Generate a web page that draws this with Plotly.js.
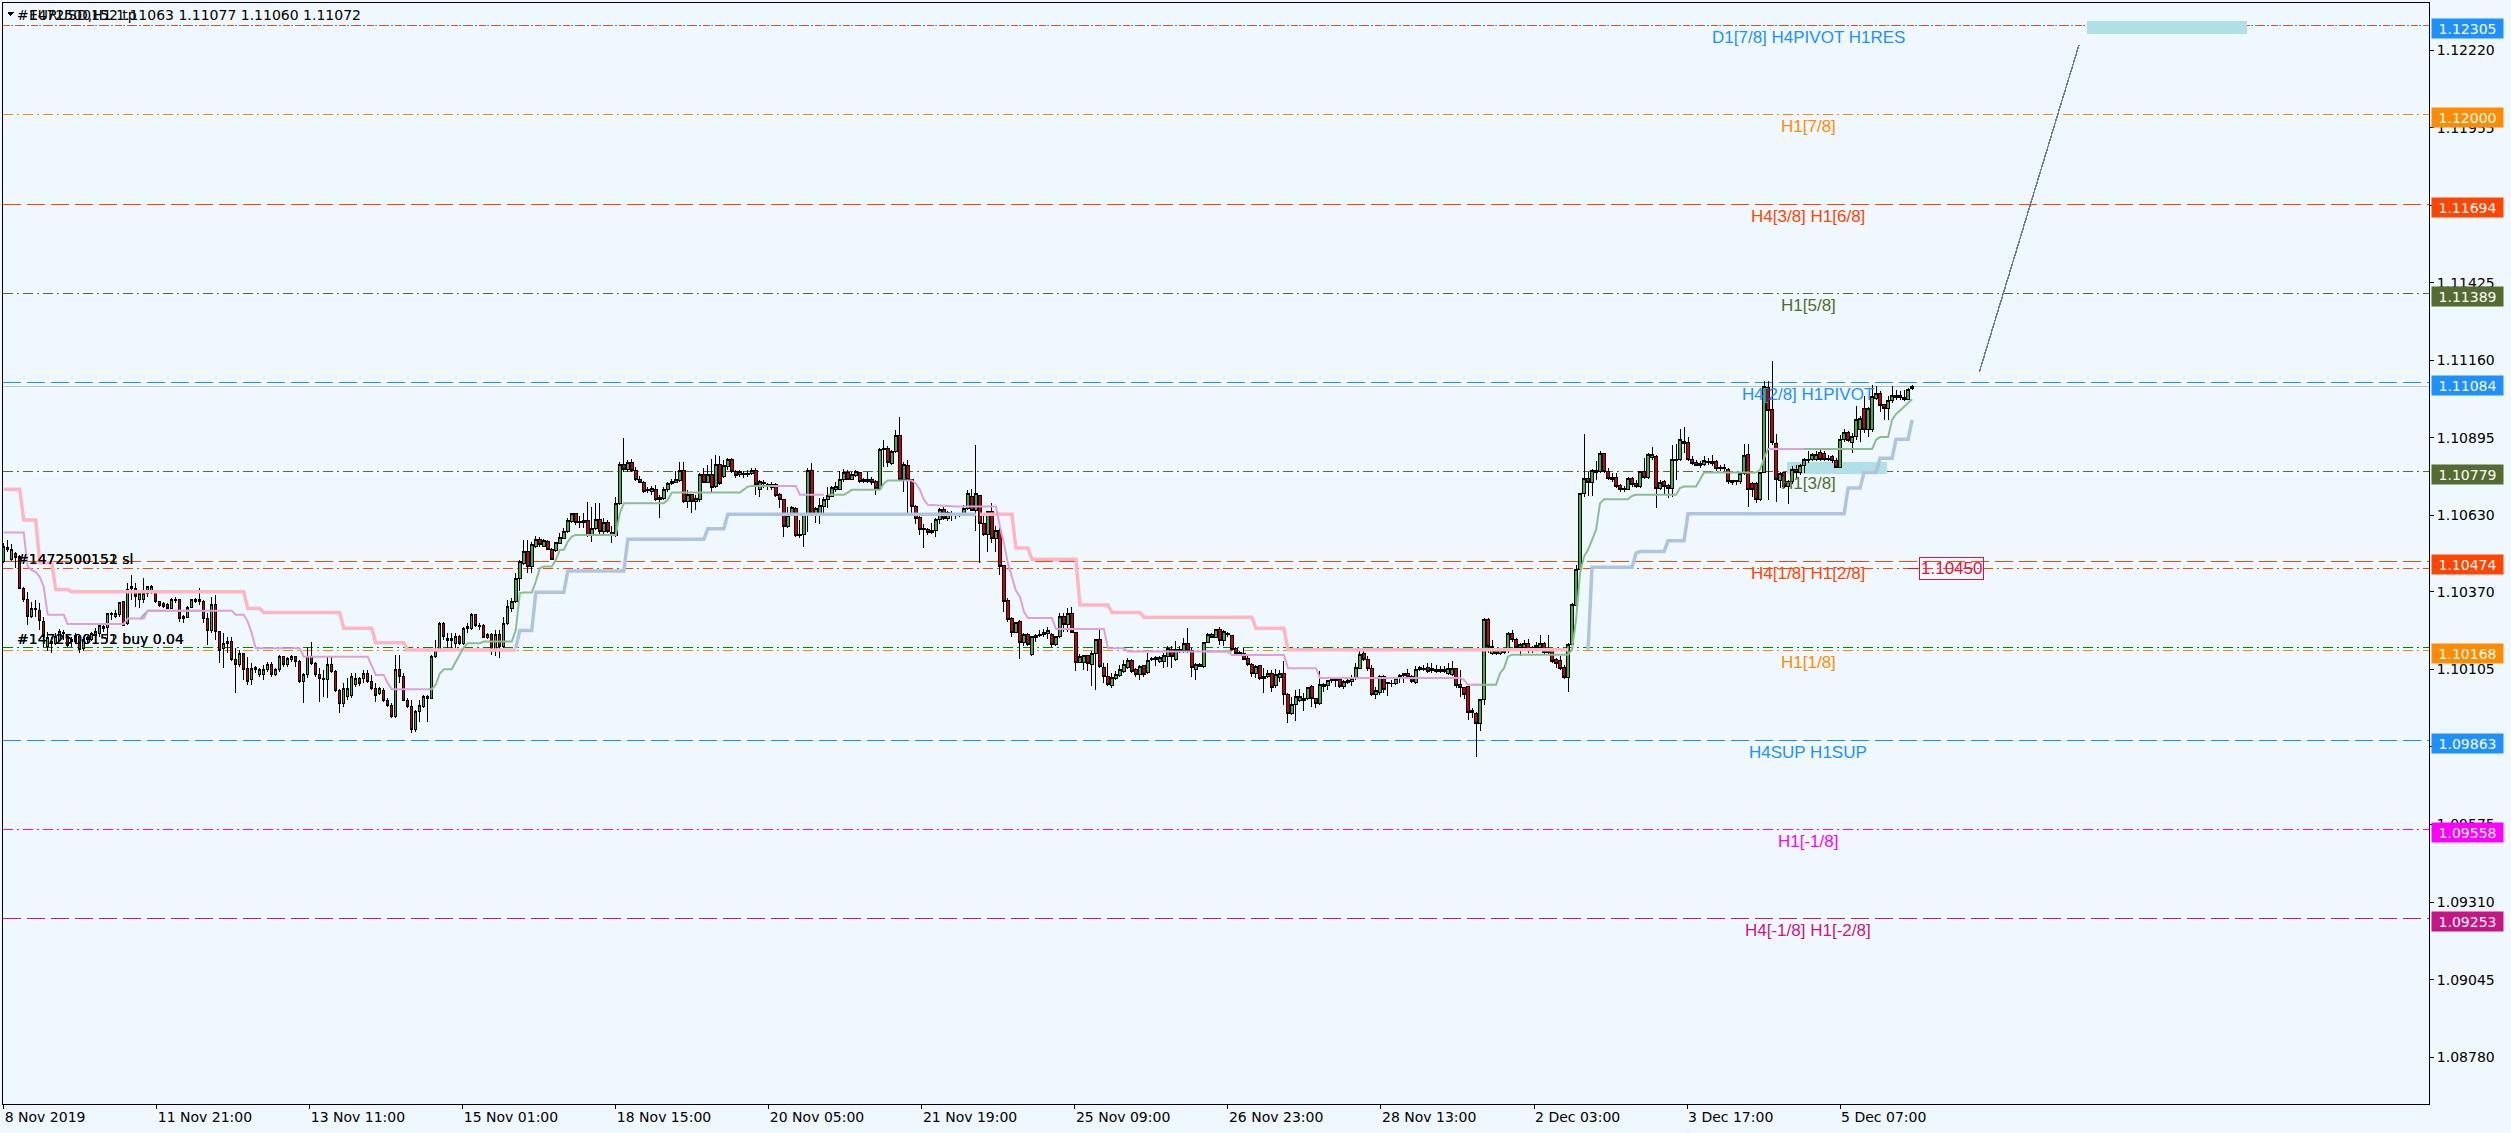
<!DOCTYPE html>
<html><head><meta charset="utf-8">
<script src="https://cdn.plot.ly/plotly-3.0.1.min.js"></script>
<style>html,body{margin:0;padding:0;background:#F0F8FF;}#chart{width:2511px;height:1133px;}
#chart .shapelayer path{shape-rendering:crispEdges;}
#chart .boxlayer path{shape-rendering:crispEdges;}
</style>
</head><body><div id="chart"></div>
<script>
// ---------- EURUSD H1 candles (bar index 0 = 8 Nov 2019) ----------
const opens = [
1.10473,1.10515,1.10481,1.10499,1.10490,1.10382,1.10342,1.10285,1.10313,1.10305,
1.10268,1.10182,1.10200,1.10194,1.10205,1.10230,1.10217,1.10200,1.10200,1.10217,
1.10177,1.10207,1.10207,1.10222,1.10226,1.10251,1.10248,1.10296,1.10287,1.10291,
1.10336,1.10260,1.10382,1.10382,1.10342,1.10344,1.10365,1.10369,1.10367,1.10335,
1.10330,1.10325,1.10313,1.10339,1.10342,1.10279,1.10283,1.10317,1.10335,1.10344,
1.10336,1.10279,1.10239,1.10325,1.10234,1.10177,1.10200,1.10200,1.10139,1.10120,
1.10160,1.10108,1.10069,1.10112,1.10086,1.10086,1.10103,1.10120,1.10086,1.10103,
1.10148,1.10120,1.10137,1.10148,1.10131,1.10063,1.10086,1.10148,1.10126,1.10086,
1.10069,1.10069,1.10120,1.10097,1.10034,1.09989,1.10012,1.10017,1.10052,1.10074,
1.10074,1.10091,1.10063,1.10040,1.10023,1.10034,1.10000,1.09983,1.09943,1.10103,
1.10080,1.10000,1.09978,1.09898,1.09961,1.09978,1.10006,1.10006,1.10148,1.10171,
1.10262,1.10211,1.10205,1.10194,1.10217,1.10194,1.10245,1.10245,1.10291,1.10256,
1.10253,1.10215,1.10223,1.10174,1.10223,1.10183,1.10263,1.10314,1.10337,1.10416,
1.10467,1.10507,1.10456,1.10524,1.10549,1.10524,1.10541,1.10515,1.10511,1.10536,
1.10553,1.10575,1.10610,1.10636,1.10606,1.10608,1.10612,1.10561,1.10587,1.10615,
1.10575,1.10606,1.10572,1.10561,1.10670,1.10803,1.10786,1.10813,1.10784,1.10752,
1.10744,1.10720,1.10712,1.10720,1.10684,1.10689,1.10718,1.10740,1.10742,1.10750,
1.10783,1.10678,1.10701,1.10678,1.10684,1.10769,1.10743,1.10769,1.10729,1.10803,
1.10763,1.10797,1.10822,1.10780,1.10769,1.10775,1.10772,1.10775,1.10783,1.10720,
1.10743,1.10735,1.10727,1.10737,1.10701,1.10684,1.10593,1.10632,1.10655,1.10561,
1.10564,1.10632,1.10784,1.10632,1.10629,1.10661,1.10684,1.10695,1.10718,1.10720,
1.10752,1.10777,1.10752,1.10766,1.10777,1.10745,1.10745,1.10752,1.10746,1.10723,
1.10857,1.10860,1.10809,1.10849,1.10902,1.10754,1.10802,1.10752,1.10661,1.10624,
1.10587,1.10583,1.10572,1.10579,1.10615,1.10652,1.10621,1.10638,1.10629,1.10632,
1.10629,1.10655,1.10695,1.10647,1.10697,1.10604,1.10564,1.10644,1.10553,1.10578,
1.10458,1.10339,1.10280,1.10231,1.10268,1.10197,1.10225,1.10154,1.10215,1.10219,
1.10223,1.10226,1.10223,1.10189,1.10217,1.10285,1.10257,1.10297,1.10231,1.10128,
1.10128,1.10151,1.10120,1.10160,1.10206,1.10111,1.10082,1.10049,1.10075,1.10083,
1.10098,1.10111,1.10134,1.10103,1.10086,1.10117,1.10094,1.10137,1.10145,1.10132,
1.10132,1.10149,1.10174,1.10137,1.10174,1.10169,1.10192,1.10169,1.10105,1.10120,
1.10115,1.10197,1.10223,1.10215,1.10240,1.10203,1.10228,1.10219,1.10177,1.10158,
1.10158,1.10142,1.10120,1.10090,1.10117,1.10075,1.10080,1.10090,1.10049,1.10078,
1.10090,1.10018,1.09955,1.09986,1.09999,1.10006,1.10006,1.10046,1.10006,1.09987,
1.10052,1.10049,1.10067,1.10071,1.10069,1.10046,1.10060,1.10063,1.10075,1.10109,
1.10158,1.10137,1.10109,1.10018,1.10026,1.10080,1.10055,1.10058,1.10058,1.10075,
1.10090,1.10090,1.10080,1.10060,1.10103,1.10109,1.10112,1.10101,1.10103,1.10098,
1.10103,1.10092,1.10086,1.10109,1.10052,1.10044,1.10046,1.09958,1.09955,1.09921,
1.10001,1.10276,1.10160,1.10172,1.10160,1.10174,1.10169,1.10229,1.10208,1.10181,
1.10181,1.10194,1.10172,1.10181,1.10181,1.10192,1.10163,1.10172,1.10140,1.10135,
1.10112,1.10078,1.10189,1.10322,1.10445,1.10704,1.10758,1.10743,1.10777,1.10780,
1.10843,1.10780,1.10761,1.10761,1.10732,1.10724,1.10720,1.10758,1.10738,1.10729,
1.10780,1.10761,1.10829,1.10832,1.10724,1.10746,1.10732,1.10724,1.10823,1.10820,
1.10883,1.10880,1.10820,1.10811,1.10800,1.10803,1.10815,1.10809,1.10815,1.10794,
1.10790,1.10788,1.10750,1.10745,1.10746,1.10775,1.10837,1.10738,1.10738,1.10686,
1.10777,1.11068,1.10993,1.10877,1.10750,1.10777,1.10729,1.10746,1.10788,1.10777,
1.10800,1.10823,1.10823,1.10823,1.10845,1.10843,1.10823,1.10832,1.10818,1.10795,
1.10889,1.10914,1.10880,1.10900,1.10923,1.10997,1.10925,1.10923,1.11031,1.11046,
1.11008,1.10997,1.11023,1.11039,1.11034,1.11034,1.11027,1.11063];
const highs = [
1.10535,1.10547,1.10533,1.10507,1.10495,1.10387,1.10370,1.10336,1.10342,1.10330,
1.10285,1.10234,1.10217,1.10230,1.10242,1.10239,1.10222,1.10217,1.10228,1.10222,
1.10217,1.10219,1.10234,1.10245,1.10260,1.10262,1.10299,1.10302,1.10308,1.10336,
1.10339,1.10399,1.10427,1.10399,1.10370,1.10416,1.10390,1.10393,1.10370,1.10339,
1.10336,1.10330,1.10349,1.10353,1.10344,1.10291,1.10321,1.10346,1.10349,1.10382,
1.10342,1.10296,1.10353,1.10359,1.10237,1.10228,1.10217,1.10217,1.10177,1.10171,
1.10162,1.10148,1.10126,1.10116,1.10108,1.10120,1.10131,1.10131,1.10108,1.10154,
1.10150,1.10148,1.10154,1.10150,1.10137,1.10091,1.10182,1.10200,1.10131,1.10108,
1.10103,1.10148,1.10148,1.10103,1.10037,1.10057,1.10074,1.10091,1.10091,1.10078,
1.10103,1.10103,1.10086,1.10057,1.10046,1.10040,1.10006,1.09989,1.10154,1.10154,
1.10091,1.10006,1.10000,1.09966,1.10000,1.10017,1.10017,1.10154,1.10205,1.10268,
1.10268,1.10228,1.10228,1.10228,1.10222,1.10251,1.10262,1.10296,1.10294,1.10262,
1.10260,1.10228,1.10228,1.10240,1.10240,1.10285,1.10342,1.10348,1.10433,1.10479,
1.10547,1.10547,1.10541,1.10561,1.10558,1.10549,1.10545,1.10519,1.10541,1.10570,
1.10587,1.10621,1.10640,1.10640,1.10627,1.10638,1.10678,1.10661,1.10672,1.10672,
1.10621,1.10615,1.10593,1.10695,1.10814,1.10896,1.10820,1.10822,1.10797,1.10766,
1.10748,1.10727,1.10731,1.10735,1.10701,1.10729,1.10746,1.10754,1.10784,1.10812,
1.10812,1.10718,1.10704,1.10701,1.10775,1.10792,1.10803,1.10822,1.10837,1.10832,
1.10820,1.10826,1.10826,1.10786,1.10786,1.10784,1.10786,1.10792,1.10792,1.10752,
1.10752,1.10740,1.10746,1.10740,1.10706,1.10684,1.10661,1.10663,1.10661,1.10615,
1.10638,1.10792,1.10811,1.10661,1.10689,1.10693,1.10729,1.10731,1.10746,1.10784,
1.10788,1.10786,1.10780,1.10786,1.10780,1.10758,1.10780,1.10763,1.10752,1.10860,
1.10888,1.10866,1.10854,1.10923,1.10968,1.10814,1.10820,1.10754,1.10667,1.10627,
1.10602,1.10587,1.10604,1.10621,1.10655,1.10659,1.10647,1.10644,1.10638,1.10638,
1.10667,1.10718,1.10720,1.10871,1.10701,1.10638,1.10647,1.10672,1.10593,1.10593,
1.10462,1.10348,1.10285,1.10268,1.10272,1.10228,1.10228,1.10219,1.10225,1.10240,
1.10242,1.10251,1.10228,1.10219,1.10297,1.10299,1.10314,1.10317,1.10234,1.10158,
1.10154,1.10154,1.10166,1.10208,1.10244,1.10128,1.10126,1.10094,1.10098,1.10120,
1.10137,1.10143,1.10140,1.10109,1.10120,1.10120,1.10162,1.10146,1.10149,1.10151,
1.10160,1.10183,1.10183,1.10203,1.10183,1.10211,1.10245,1.10177,1.10126,1.10126,
1.10200,1.10228,1.10228,1.10242,1.10251,1.10240,1.10231,1.10223,1.10181,1.10166,
1.10177,1.10149,1.10126,1.10120,1.10120,1.10109,1.10103,1.10103,1.10105,1.10103,
1.10132,1.10024,1.10012,1.10035,1.10037,1.10024,1.10046,1.10052,1.10008,1.10098,
1.10058,1.10069,1.10078,1.10078,1.10071,1.10067,1.10071,1.10086,1.10126,1.10171,
1.10177,1.10149,1.10120,1.10044,1.10086,1.10086,1.10063,1.10067,1.10080,1.10090,
1.10094,1.10105,1.10086,1.10115,1.10117,1.10120,1.10126,1.10126,1.10120,1.10117,
1.10117,1.10126,1.10132,1.10109,1.10103,1.10046,1.10049,1.09973,1.09958,1.10003,
1.10280,1.10280,1.10206,1.10177,1.10177,1.10174,1.10234,1.10240,1.10211,1.10194,
1.10206,1.10208,1.10185,1.10197,1.10223,1.10200,1.10223,1.10174,1.10143,1.10149,
1.10120,1.10194,1.10331,1.10462,1.10707,1.10909,1.10780,1.10788,1.10818,1.10849,
1.10845,1.10792,1.10777,1.10777,1.10738,1.10732,1.10763,1.10763,1.10752,1.10784,
1.10826,1.10843,1.10864,1.10837,1.10750,1.10752,1.10738,1.10872,1.10875,1.10925,
1.10932,1.10900,1.10832,1.10820,1.10818,1.10832,1.10826,1.10837,1.10820,1.10803,
1.10807,1.10792,1.10752,1.10752,1.10780,1.10875,1.10875,1.10746,1.10746,1.10780,
1.11088,1.11088,1.11159,1.10909,1.10780,1.10780,1.10752,1.10798,1.10803,1.10807,
1.10826,1.10849,1.10843,1.10852,1.10860,1.10849,1.10837,1.10837,1.10826,1.10906,
1.10925,1.10920,1.10911,1.11005,1.10971,1.11037,1.11002,1.11076,1.11073,1.11054,
1.11012,1.11039,1.11073,1.11059,1.11054,1.11059,1.11065,1.11077];
const lows = [
1.10469,1.10507,1.10476,1.10450,1.10378,1.10336,1.10256,1.10279,1.10285,1.10239,
1.10182,1.10169,1.10162,1.10188,1.10200,1.10205,1.10180,1.10182,1.10192,1.10162,
1.10169,1.10194,1.10203,1.10217,1.10217,1.10234,1.10207,1.10273,1.10279,1.10285,
1.10253,1.10255,1.10342,1.10319,1.10313,1.10330,1.10353,1.10362,1.10330,1.10319,
1.10313,1.10310,1.10310,1.10333,1.10268,1.10264,1.10279,1.10313,1.10330,1.10325,
1.10264,1.10188,1.10228,1.10205,1.10126,1.10108,1.10160,1.10135,1.10023,1.10114,
1.10069,1.10052,1.10052,1.10091,1.10078,1.10069,1.10097,1.10080,1.10083,1.10097,
1.10114,1.10114,1.10131,1.10114,1.10060,1.09989,1.10074,1.10120,1.10080,1.09995,
1.10012,1.10006,1.10091,1.10029,1.09955,1.09978,1.10000,1.10006,1.10046,1.10048,
1.10057,1.10057,1.10034,1.09995,1.10017,1.09995,1.09978,1.09938,1.09938,1.10057,
1.09998,1.09972,1.09887,1.09892,1.09926,1.09972,1.09926,1.10003,1.10143,1.10169,
1.10205,1.10177,1.10177,1.10177,1.10188,1.10188,1.10228,1.10239,1.10251,1.10239,
1.10211,1.10208,1.10154,1.10149,1.10143,1.10177,1.10257,1.10302,1.10331,1.10371,
1.10462,1.10433,1.10433,1.10519,1.10524,1.10522,1.10513,1.10479,1.10507,1.10533,
1.10549,1.10570,1.10604,1.10598,1.10587,1.10587,1.10558,1.10541,1.10581,1.10564,
1.10564,1.10570,1.10536,1.10558,1.10667,1.10780,1.10780,1.10780,1.10748,1.10740,
1.10706,1.10706,1.10701,1.10681,1.10621,1.10684,1.10712,1.10735,1.10740,1.10746,
1.10672,1.10655,1.10640,1.10649,1.10678,1.10740,1.10740,1.10712,1.10723,1.10735,
1.10758,1.10786,1.10775,1.10758,1.10761,1.10758,1.10763,1.10769,1.10701,1.10695,
1.10723,1.10718,1.10718,1.10695,1.10655,1.10558,1.10587,1.10627,1.10558,1.10553,
1.10524,1.10575,1.10627,1.10604,1.10602,1.10627,1.10655,1.10693,1.10712,1.10718,
1.10746,1.10750,1.10750,1.10763,1.10743,1.10740,1.10740,1.10735,1.10701,1.10720,
1.10797,1.10797,1.10803,1.10845,1.10752,1.10712,1.10627,1.10638,1.10602,1.10564,
1.10519,1.10564,1.10568,1.10558,1.10602,1.10615,1.10610,1.10613,1.10618,1.10624,
1.10629,1.10649,1.10644,1.10579,1.10467,1.10561,1.10507,1.10536,1.10507,1.10428,
1.10302,1.10268,1.10217,1.10228,1.10140,1.10183,1.10183,1.10151,1.10197,1.10215,
1.10215,1.10208,1.10181,1.10183,1.10211,1.10234,1.10234,1.10228,1.10098,1.10126,
1.10103,1.10101,1.10049,1.10035,1.10109,1.10060,1.10049,1.10041,1.10069,1.10078,
1.10094,1.10105,1.10092,1.10078,1.10069,1.10080,1.10090,1.10132,1.10115,1.10126,
1.10109,1.10112,1.10109,1.10132,1.10160,1.10160,1.10160,1.10080,1.10069,1.10112,
1.10109,1.10194,1.10211,1.10211,1.10189,1.10183,1.10215,1.10169,1.10149,1.10149,
1.10137,1.10117,1.10078,1.10075,1.10069,1.10024,1.10075,1.10029,1.10041,1.10063,
1.09984,1.09921,1.09950,1.09927,1.09995,1.09964,1.10001,1.09978,1.09972,1.09984,
1.10029,1.10033,1.10060,1.10046,1.10041,1.10037,1.10055,1.10049,1.10069,1.10105,
1.10132,1.10101,1.10014,1.10003,1.10018,1.10024,1.10014,1.10044,1.10052,1.10058,
1.10060,1.10075,1.10058,1.10055,1.10098,1.10098,1.10094,1.10094,1.10092,1.10092,
1.10092,1.10086,1.10081,1.10041,1.10012,1.10003,1.09933,1.09938,1.09807,1.09896,
1.09984,1.10160,1.10155,1.10155,1.10155,1.10158,1.10160,1.10200,1.10166,1.10149,
1.10166,1.10160,1.10160,1.10172,1.10172,1.10158,1.10155,1.10126,1.10109,1.10103,
1.10072,1.10026,1.10183,1.10320,1.10443,1.10695,1.10697,1.10697,1.10752,1.10775,
1.10775,1.10752,1.10746,1.10724,1.10712,1.10712,1.10716,1.10729,1.10724,1.10724,
1.10754,1.10754,1.10820,1.10655,1.10718,1.10701,1.10689,1.10695,1.10752,1.10815,
1.10843,1.10818,1.10803,1.10798,1.10792,1.10800,1.10803,1.10800,1.10784,1.10784,
1.10784,1.10738,1.10735,1.10735,1.10738,1.10769,1.10661,1.10695,1.10672,1.10681,
1.10775,1.10684,1.10872,1.10678,1.10724,1.10724,1.10670,1.10738,1.10758,1.10769,
1.10775,1.10809,1.10818,1.10818,1.10818,1.10818,1.10815,1.10811,1.10792,1.10792,
1.10883,1.10883,1.10843,1.10889,1.10883,1.10911,1.10900,1.10917,1.11025,1.10985,
1.10955,1.10957,1.11014,1.11025,1.11025,1.11023,1.11025,1.11060];
const closes = [
1.10524,1.10522,1.10515,1.10487,1.10382,1.10342,1.10285,1.10313,1.10308,1.10273,
1.10217,1.10214,1.10192,1.10217,1.10234,1.10226,1.10188,1.10207,1.10219,1.10173,
1.10207,1.10214,1.10226,1.10234,1.10253,1.10245,1.10296,1.10291,1.10296,1.10333,
1.10256,1.10378,1.10387,1.10355,1.10365,1.10365,1.10387,1.10387,1.10335,1.10324,
1.10319,1.10313,1.10344,1.10344,1.10279,1.10285,1.10317,1.10342,1.10344,1.10336,
1.10279,1.10239,1.10325,1.10234,1.10171,1.10194,1.10194,1.10137,1.10123,1.10160,
1.10103,1.10063,1.10108,1.10103,1.10103,1.10103,1.10120,1.10086,1.10103,1.10148,
1.10120,1.10143,1.10148,1.10131,1.10063,1.10086,1.10148,1.10126,1.10086,1.10074,
1.10074,1.10120,1.10097,1.10034,1.09989,1.10040,1.10040,1.10080,1.10074,1.10055,
1.10091,1.10063,1.10040,1.10017,1.10040,1.10000,1.09983,1.09943,1.10103,1.10080,
1.10000,1.09978,1.09898,1.09961,1.09983,1.10012,1.10012,1.10148,1.10171,1.10262,
1.10217,1.10205,1.10211,1.10217,1.10194,1.10245,1.10251,1.10291,1.10256,1.10251,
1.10215,1.10223,1.10174,1.10223,1.10183,1.10263,1.10319,1.10337,1.10416,1.10473,
1.10507,1.10456,1.10533,1.10549,1.10530,1.10545,1.10515,1.10481,1.10538,1.10555,
1.10575,1.10612,1.10636,1.10606,1.10610,1.10613,1.10561,1.10587,1.10615,1.10575,
1.10606,1.10575,1.10561,1.10670,1.10803,1.10786,1.10813,1.10784,1.10752,1.10744,
1.10712,1.10715,1.10723,1.10684,1.10693,1.10720,1.10740,1.10748,1.10752,1.10783,
1.10678,1.10701,1.10678,1.10689,1.10772,1.10743,1.10772,1.10727,1.10803,1.10740,
1.10802,1.10822,1.10780,1.10766,1.10780,1.10770,1.10775,1.10783,1.10735,1.10748,
1.10738,1.10729,1.10737,1.10697,1.10684,1.10593,1.10632,1.10659,1.10561,1.10564,
1.10635,1.10784,1.10632,1.10655,1.10663,1.10686,1.10697,1.10727,1.10729,1.10752,
1.10777,1.10754,1.10769,1.10780,1.10746,1.10752,1.10754,1.10743,1.10723,1.10857,
1.10860,1.10813,1.10849,1.10902,1.10754,1.10803,1.10752,1.10661,1.10621,1.10583,
1.10581,1.10572,1.10579,1.10615,1.10652,1.10621,1.10640,1.10632,1.10632,1.10629,
1.10655,1.10704,1.10647,1.10704,1.10604,1.10564,1.10644,1.10553,1.10578,1.10456,
1.10337,1.10274,1.10231,1.10265,1.10197,1.10223,1.10189,1.10217,1.10222,1.10225,
1.10231,1.10237,1.10189,1.10217,1.10285,1.10257,1.10297,1.10231,1.10128,1.10149,
1.10151,1.10126,1.10160,1.10206,1.10115,1.10080,1.10052,1.10078,1.10086,1.10103,
1.10123,1.10134,1.10098,1.10086,1.10115,1.10086,1.10134,1.10143,1.10140,1.10146,
1.10151,1.10177,1.10149,1.10174,1.10169,1.10192,1.10171,1.10112,1.10120,1.10115,
1.10197,1.10223,1.10215,1.10240,1.10203,1.10234,1.10223,1.10174,1.10158,1.10162,
1.10140,1.10120,1.10090,1.10115,1.10075,1.10080,1.10090,1.10044,1.10086,1.10092,
1.10018,1.09955,1.09984,1.10012,1.10012,1.09999,1.10044,1.10006,1.09987,1.10052,
1.10046,1.10067,1.10071,1.10067,1.10046,1.10063,1.10067,1.10075,1.10112,1.10154,
1.10137,1.10109,1.10018,1.10033,1.10080,1.10037,1.10060,1.10055,1.10075,1.10085,
1.10083,1.10078,1.10063,1.10103,1.10112,1.10103,1.10098,1.10109,1.10098,1.10103,
1.10097,1.10109,1.10109,1.10049,1.10044,1.10018,1.09958,1.09965,1.09921,1.10001,
1.10274,1.10183,1.10183,1.10160,1.10174,1.10163,1.10229,1.10206,1.10181,1.10189,
1.10194,1.10174,1.10181,1.10185,1.10192,1.10163,1.10169,1.10132,1.10124,1.10109,
1.10078,1.10189,1.10325,1.10445,1.10704,1.10758,1.10743,1.10784,1.10784,1.10843,
1.10780,1.10758,1.10754,1.10729,1.10720,1.10718,1.10758,1.10735,1.10729,1.10780,
1.10761,1.10837,1.10837,1.10724,1.10743,1.10729,1.10724,1.10820,1.10818,1.10889,
1.10877,1.10820,1.10809,1.10800,1.10807,1.10818,1.10811,1.10815,1.10792,1.10790,
1.10794,1.10746,1.10744,1.10750,1.10775,1.10834,1.10720,1.10718,1.10686,1.10777,
1.11071,1.10989,1.10880,1.10752,1.10775,1.10729,1.10746,1.10788,1.10777,1.10800,
1.10823,1.10818,1.10837,1.10840,1.10823,1.10823,1.10826,1.10818,1.10795,1.10889,
1.10914,1.10886,1.10900,1.10959,1.10963,1.10923,1.10997,1.11037,1.11046,1.11005,
1.10997,1.11023,1.11039,1.11034,1.11039,1.11025,1.11062,1.11072];

// ---------- time axis labels (one every 38 H1 bars) ----------
const timeLabels = ["8 Nov 2019","11 Nov 21:00","13 Nov 11:00","15 Nov 01:00","18 Nov 15:00",
  "20 Nov 05:00","21 Nov 19:00","25 Nov 09:00","26 Nov 23:00","28 Nov 13:00",
  "2 Dec 03:00","3 Dec 17:00","5 Dec 07:00"];
const priceTicks = [1.12220,1.11955,1.11690,1.11425,1.11160,1.10895,1.10630,1.10370,
  1.10105,1.09840,1.09575,1.09310,1.09045,1.08780];

// ---------- Murrey / pivot levels ----------
const levelPrices = [1.12305,1.12000,1.11694,1.11389,1.11084,1.10779,1.10474,1.10168,1.09863,1.09558,1.09253];
const levelNames  = ["D1[7/8] H4PIVOT H1RES","H1[7/8]","H4[3/8] H1[6/8]","H1[5/8]","H4[2/8] H1PIVOT",
  "H1[3/8]","H4[1/8] H1[2/8]","H1[1/8]","H4SUP H1SUP","H1[-1/8]","H4[-1/8] H1[-2/8]"];
const levelColors = ["#1E90FF","#FF8C00","#FF4500","#556B2F","#1E90FF","#556B2F","#FF4500","#FF8C00","#1E90FF","#FF00FF","#C71585"];
const levelStyles = ["dot","dashdot","dash","dashdot","dash","dashdot","dash","dashdot","dash","dashdot","dash"];

// order lines
const tpPrice = 1.12305, slPrice = 1.10450, buyPrice = 1.10178, bidPrice = 1.11072;

// ---------- indicator lines (bar index, price) ----------
const pinkX = [0,4,5,8,9,12,13,16,17,60,61,64,65,84,85,92,93,100,101,128,null,
  244,252,253,256,257,268,269,276,277,284,285,312,313,320,321,391];
const pinkY = [1.10720,1.10720,1.10615,1.10615,1.10469,1.10469,1.10378,1.10378,1.10370,1.10370,
  1.10313,1.10313,1.10299,1.10299,1.10245,1.10245,1.10196,1.10196,1.10171,1.10171,null,
  1.10635,1.10635,1.10519,1.10519,1.10481,1.10481,1.10325,1.10325,1.10299,1.10299,1.10283,1.10283,
  1.10245,1.10245,1.10172,1.10172];
const plumX = [0,5,6,7,8,9,10,11,15,16,30,31,35,36,57,58,60,61,62,63,74,75,91,92,93,95,96,97,106,null,
  192,198,199,205,null,
  225,227,228,229,230,231,238,248,249,250,251,252,253,254,255,256,262,263,275,276,280,281,306,307,320,
  321,328,329,364,365,366,369,null,441,450];
const plumY = [1.10572,1.10572,1.10456,1.10444,1.10438,1.10421,1.10387,1.10291,1.10291,1.10260,1.10260,
  1.10279,1.10279,1.10305,1.10305,1.10291,1.10291,1.10268,1.10228,1.10177,1.10177,1.10148,1.10148,1.10114,
  1.10086,1.10086,1.10057,1.10037,1.10037,null,
  1.10731,1.10731,1.10701,1.10701,null,
  1.10750,1.10750,1.10740,1.10718,1.10684,1.10667,1.10661,1.10661,1.10593,1.10536,1.10467,1.10422,1.10374,
  1.10354,1.10302,1.10280,1.10280,1.10243,1.10243,1.10177,1.10177,1.10166,1.10166,1.10154,1.10154,
  1.10109,1.10109,1.10075,1.10075,1.10069,1.10052,1.10052,null,1.10857,1.10857];
const greenX = [34,35,36,49,null,
  106,107,108,109,110,112,113,114,115,116,119,120,127,128,129,130,132,133,134,135,137,138,139,140,141,142,
  143,153,154,155,165,166,167,184,185,186,187,192,null,
  206,210,211,212,219,220,221,225,null,300,307,null,337,341,null,352,362,null,
  367,373,374,375,376,377,391,392,393,394,395,396,397,398,399,400,406,407,408,418,419,420,423,424,425,
  438,439,440,441,467,468,469,471,472,473,474,475,476,477];
const greenY = [1.10276,1.10291,1.10305,1.10305,null,
  1.10037,1.10037,1.10052,1.10091,1.10105,1.10105,1.10131,1.10154,1.10180,1.10194,1.10194,1.10200,1.10200,
  1.10240,1.10365,1.10367,1.10367,1.10405,1.10450,1.10456,1.10456,1.10479,1.10513,1.10513,1.10541,1.10558,
  1.10564,1.10564,1.10638,1.10672,1.10672,1.10684,1.10709,1.10709,1.10720,1.10729,1.10731,1.10731,null,
  1.10701,1.10701,1.10709,1.10718,1.10718,1.10740,1.10750,1.10750,null,1.10166,1.10166,null,
  1.10075,1.10075,null,1.10075,1.10075,null,
  1.10052,1.10052,1.10092,1.10109,1.10149,1.10155,1.10155,1.10172,1.10274,1.10433,1.10490,1.10513,1.10547,
  1.10581,1.10672,1.10686,1.10686,1.10697,1.10701,1.10701,1.10724,1.10729,1.10729,1.10752,1.10777,
  1.10777,1.10786,1.10826,1.10857,1.10857,1.10889,1.10898,1.10898,1.10957,1.10977,1.10989,1.11002,1.11014,1.11027];
const steelX = [128,129,132,133,140,141,155,156,175,176,180,181,243,null,
  396,397,407,408,409,415,416,420,421,460,461,464,465,468,469,472,473,476,477];
const steelY = [1.10177,1.10238,1.10238,1.10368,1.10368,1.10441,1.10441,1.10549,1.10549,1.10585,1.10585,
  1.10635,1.10635,null,
  1.10172,1.10454,1.10454,1.10502,1.10507,1.10507,1.10544,1.10544,1.10636,1.10636,1.10724,1.10724,
  1.10777,1.10777,1.10826,1.10826,1.10891,1.10891,1.10957];

// drawn objects (bar index / price)
const zoneTop = {x0:520.8, x1:560.7, y0:1.12275, y1:1.12319};
const zoneMid = {x0:445.8, x1:470.8, y0:1.10772, y1:1.10813};
const trendLine = {x0:493.8, y0:1.11120, x1:518.7, y1:1.12237};
const slLabelBar = 486.8;
const levelLabelBar = 451;

// ---------- layout geometry ----------
const X0 = -0.175, X1 = 606.2;
const Y0 = 1.086206, Y1 = 1.123805;
const barsPerTick = 38.25;
const barIdx = opens.map((_, i) => i);

const dashStyle = {dash:"18px,6px", dashdot:"10px,4px,2px,4px", dot:"2px,2px"};

const traces = [
  {type:"scatter", mode:"lines", x:steelX, y:steelY, line:{color:"#B0C4DE", width:3.5}, hoverinfo:"skip", connectgaps:false},
  {type:"scatter", mode:"lines", x:pinkX, y:pinkY, line:{color:"#FFB6C1", width:3.5}, hoverinfo:"skip", connectgaps:false},
  {type:"scatter", mode:"lines", x:greenX, y:greenY, line:{color:"#8FBC8F", width:2}, hoverinfo:"skip", connectgaps:false},
  {type:"scatter", mode:"lines", x:plumX, y:plumY, line:{color:"#DDA0DD", width:2}, hoverinfo:"skip", connectgaps:false},
  {type:"candlestick", x:barIdx, open:opens, high:highs, low:lows, close:closes,
   increasing:{line:{color:"#000000", width:1}, fillcolor:"#3CB043"},
   decreasing:{line:{color:"#000000", width:1}, fillcolor:"#D00000"},
   whiskerwidth:0, hoverinfo:"skip"}
];

const shapes = [];
shapes.push({type:"rect", xref:"x", yref:"y", x0:zoneTop.x0, x1:zoneTop.x1, y0:zoneTop.y0, y1:zoneTop.y1,
  fillcolor:"#B0E0E6", line:{width:0}, layer:"below"});
shapes.push({type:"rect", xref:"x", yref:"y", x0:zoneMid.x0, x1:zoneMid.x1, y0:zoneMid.y0, y1:zoneMid.y1,
  fillcolor:"#B0E0E6", line:{width:0}, layer:"below"});
levelPrices.forEach((p, i) => {
  shapes.push({type:"line", xref:"paper", yref:"y", x0:0, x1:1, y0:p, y1:p,
    line:{color:levelColors[i], width:1, dash:dashStyle[levelStyles[i]]}, layer:"below"});
});
shapes.push({type:"line", xref:"paper", yref:"y", x0:0, x1:1, y0:tpPrice, y1:tpPrice,
  line:{color:"#FF4500", width:1, dash:"7px,7px"}, layer:"below"});
shapes.push({type:"line", xref:"paper", yref:"y", x0:0, x1:1, y0:slPrice, y1:slPrice,
  line:{color:"#FF4500", width:1, dash:dashStyle.dashdot}, layer:"below"});
shapes.push({type:"line", xref:"paper", yref:"y", x0:0, x1:1, y0:buyPrice, y1:buyPrice,
  line:{color:"#008000", width:1, dash:dashStyle.dashdot}, layer:"below"});
shapes.push({type:"line", xref:"paper", yref:"y", x0:0, x1:1, y0:bidPrice, y1:bidPrice,
  line:{color:"#C0C0C0", width:1}, layer:"below"});
shapes.push({type:"line", xref:"x", yref:"y", x0:trendLine.x0, y0:trendLine.y0, x1:trendLine.x1, y1:trendLine.y1,
  line:{color:"#708090", width:1.5}});
shapes.push({type:"line", xref:"x", yref:"y", x0:476, x1:478.6, y0:slPrice, y1:slPrice, line:{color:"#DC143C", width:1}});
shapes.push({type:"path", xref:"paper", yref:"paper",
  path:"M 0.00165 0.99183 L 0.00495 0.99183 L 0.00330 0.98819 Z", fillcolor:"#000000", line:{width:0}});

const annotations = [];
levelPrices.forEach((p, i) => {
  annotations.push({xref:"x", yref:"y", x:levelLabelBar, y:p, yshift:-12, text:levelNames[i],
    showarrow:false, xanchor:"center", yanchor:"middle",
    font:{family:"Liberation Sans, Arial, sans-serif", size:17, color:levelColors[i]}});
  annotations.push({xref:"paper", yref:"y", x:1, xshift:2, y:p, yshift:-3, text:p.toFixed(5),
    showarrow:false, xanchor:"left", yanchor:"middle", width:71, height:19, align:"center", borderpad:0,
    bgcolor:levelColors[i], font:{family:"DejaVu Sans", size:14, color:"#FFFFFF"}});
});
annotations.push({xref:"x", yref:"y", x:slLabelBar, y:slPrice, text:slPrice.toFixed(5), showarrow:false,
  xanchor:"center", yanchor:"middle", bordercolor:"#DC143C", borderwidth:1, borderpad:1, bgcolor:"rgba(0,0,0,0)",
  font:{family:"Liberation Sans, Arial, sans-serif", size:17, color:"#DC143C"}});
const hdrFont = {family:"DejaVu Sans", size:14, color:"#000000"};
annotations.push({xref:"paper", yref:"paper", x:0.00989, y:0.9891, xanchor:"left", yanchor:"middle",
  text:"EURUSD,H1 1.11063 1.11077 1.11060 1.11072", showarrow:false, font:hdrFont});
annotations.push({xref:"paper", yref:"paper", x:0.00495, y:0.9891,
  xanchor:"left", yanchor:"middle", text:"#1472500152 tp", showarrow:false, font:hdrFont});
["#1472500151 sl","#1472500152 sl"].forEach(t => annotations.push({xref:"paper", yref:"y", x:0.00495, y:slPrice,
  yshift:9.5, xanchor:"left", yanchor:"middle", text:t, showarrow:false, font:hdrFont}));
["#1472500151 buy 0.04","#1472500152 buy 0.04"].forEach(t => annotations.push({xref:"paper", yref:"y", x:0.00495,
  y:buyPrice, yshift:9, xanchor:"left", yanchor:"middle", text:t, showarrow:false, font:hdrFont}));

const axFont = {family:"DejaVu Sans", size:14, color:"#000000"};
const layout = {
  width:2511, height:1133,
  margin:{l:3, r:82, t:3, b:29, pad:0},
  paper_bgcolor:"#F0F8FF", plot_bgcolor:"#F0F8FF",
  showlegend:false, boxgap:0.15,
  xaxis:{type:"linear", range:[X0, X1], tickvals:timeLabels.map((_, k) => k * barsPerTick), ticktext:timeLabels,
    ticks:"outside", ticklen:4, tickcolor:"#000", showline:true, linecolor:"#000", linewidth:1, mirror:true,
    showgrid:false, zeroline:false, tickfont:axFont, ticklabelposition:"outside right",
    rangeslider:{visible:false}, automargin:false, fixedrange:true},
  yaxis:{side:"right", range:[Y0, Y1], tickvals:priceTicks, ticktext:priceTicks.map(v => v.toFixed(5)),
    ticks:"outside", ticklen:4, tickcolor:"#000", showline:true, linecolor:"#000", linewidth:1, mirror:true,
    showgrid:false, zeroline:false, tickfont:axFont, automargin:false, fixedrange:true},
  shapes, annotations
};
Plotly.newPlot("chart", traces, layout, {displayModeBar:false, staticPlot:true});
</script></body></html>
